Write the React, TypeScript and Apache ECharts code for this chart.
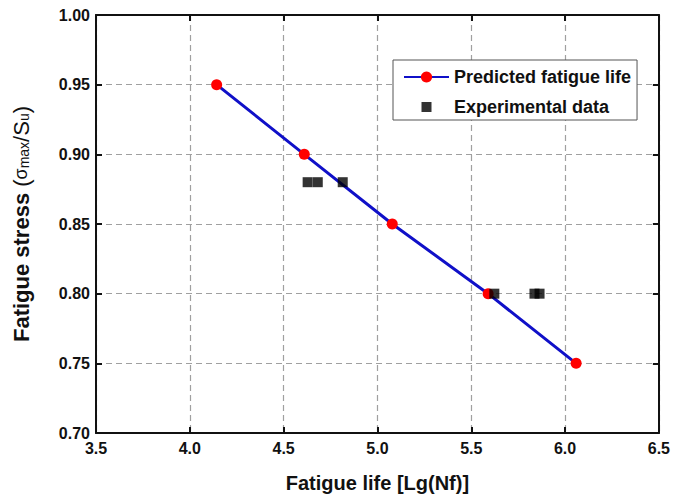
import React, { useEffect, useRef } from "react";
import * as echarts from "echarts";

const predictedLife = [4.143, 4.61, 5.079, 5.59, 6.059];
const predictedStress = [0.95, 0.9, 0.85, 0.8, 0.75];
const expLife = [4.628, 4.682, 4.815, 5.623, 5.837, 5.864];
const expStress = [0.88, 0.88, 0.88, 0.8, 0.8, 0.8];

const xMin = 3.5, xMax = 6.5, xStep = 0.5;
const yMin = 0.7, yMax = 1.0, yStep = 0.05;

const FONT = "Liberation Sans, Arial, sans-serif";

export default function App() {
  const ref = useRef<HTMLDivElement>(null);
  useEffect(() => {
    if (!ref.current) return;
    const chart = echarts.init(ref.current, undefined, { renderer: "svg" });
    const gridLine = { show: true, lineStyle: { color: "#a0a0a0", type: [6, 4] as any, width: 1.2 } };
    const axisLine = { show: true, onZero: false, lineStyle: { color: "#111", width: 2 } };
    const tick = { show: true, inside: true, length: 6, lineStyle: { color: "#111", width: 2 } };
    const baseX = { type: "value" as const, min: xMin, max: xMax, interval: xStep };
    const baseY = { type: "value" as const, min: yMin, max: yMax, interval: yStep };
    chart.setOption({
      animation: false,
      backgroundColor: "#ffffff",
      textStyle: { fontFamily: FONT },
      grid: { left: 96, top: 15, width: 563, height: 418, containLabel: false },
      legend: {
        orient: "vertical",
        left: 393,
        top: 60,
        padding: [8, 6, 4, 10],
        itemWidth: 45,
        itemHeight: 14,
        itemGap: 12,
        borderColor: "#555",
        borderWidth: 1,
        backgroundColor: "#fff",
        textStyle: { fontFamily: FONT, fontWeight: "bold", fontSize: 18, color: "#111" },
        data: [
          { name: "Predicted fatigue life" },
          { name: "Experimental data", icon: "path://M0,0M14,14M2,2h10v10h-10z" },
        ],
      },
      xAxis: [
        {
          ...baseX,
          position: "bottom",
          name: "Fatigue life [Lg(Nf)]",
          nameLocation: "middle",
          nameGap: 40,
          nameTextStyle: { fontFamily: FONT, fontWeight: "bold", fontSize: 20, color: "#111" },
          axisLine,
          axisTick: tick,
          splitLine: gridLine,
          axisLabel: {
            fontFamily: FONT, fontWeight: "bold", fontSize: 16, color: "#111", margin: 7,
            formatter: (v: number) => v.toFixed(1),
          },
        },
        {
          ...baseX,
          position: "top",
          axisLine,
          axisTick: tick,
          splitLine: { show: false },
          axisLabel: { show: false },
        },
      ],
      yAxis: [
        {
          ...baseY,
          position: "left",
          name: "{a|Fatigue stress }{b|(}{c|σ}{s|max}{b|/S}{s|u}{b|)}",
          nameLocation: "middle",
          nameGap: 64,
          nameRotate: 90,
          nameTextStyle: {
            fontFamily: FONT, color: "#111",
            rich: {
              a: { fontFamily: FONT, fontWeight: "bold", fontSize: 22, color: "#111" },
              b: { fontFamily: FONT, fontSize: 22, color: "#111" },
              c: { fontFamily: FONT, fontSize: 18, color: "#111" },
              s: { fontFamily: FONT, fontSize: 14, color: "#111", padding: [6, 0, 0, 0] },
            },
          },
          axisLine,
          axisTick: tick,
          splitLine: gridLine,
          axisLabel: {
            fontFamily: FONT, fontWeight: "bold", fontSize: 16, color: "#111", margin: 6,
            formatter: (v: number) => v.toFixed(2),
          },
        },
        {
          ...baseY,
          position: "right",
          axisLine,
          axisTick: tick,
          splitLine: { show: false },
          axisLabel: { show: false },
        },
      ],
      series: [
        {
          name: "Experimental data",
          type: "scatter",
          symbol: "rect",
          symbolSize: 10,
          itemStyle: { color: "#000" },
          data: expLife.map((x, i) => [x, expStress[i]]),
          z: 3,
        },
        {
          name: "Predicted fatigue life",
          type: "line",
          symbol: "circle",
          symbolSize: 11,
          lineStyle: { color: "#1010c8", width: 3 },
          itemStyle: { color: "#ff0000" },
          data: predictedLife.map((x, i) => [x, predictedStress[i]]),
          z: 2,
        },
      ],
    });
    return () => chart.dispose();
  }, []);
  return <div ref={ref} style={{ position: "fixed", left: 0, top: 0, width: 673, height: 500 }} />;
}
